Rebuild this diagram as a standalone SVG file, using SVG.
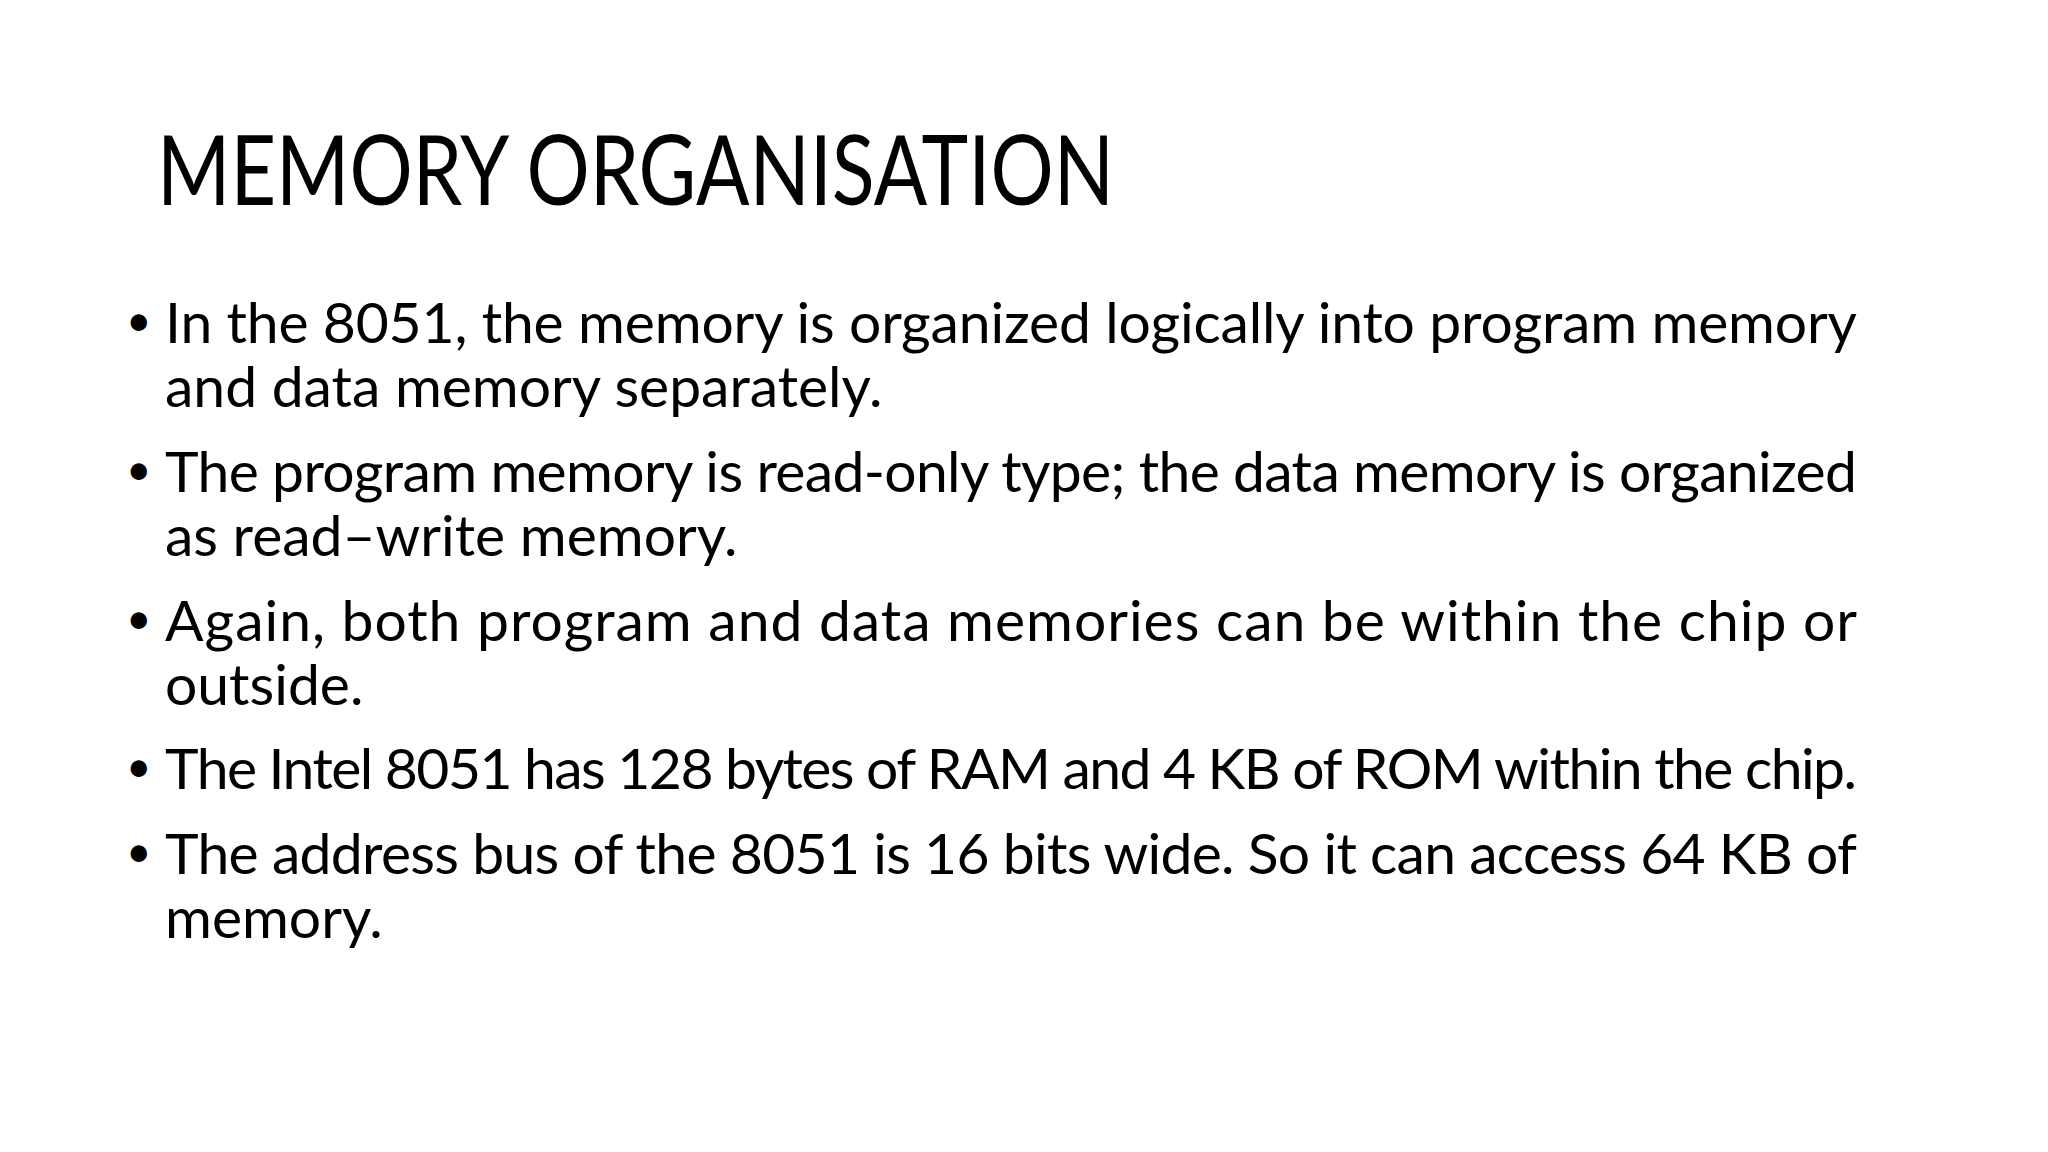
<svg xmlns="http://www.w3.org/2000/svg" width="2048" height="1152" viewBox="0 0 2048 1152">
<style>
.t{font-family:Lato,"Open Sans","Liberation Sans",sans-serif;fill:#000}
.h{font-size:96px}
.b{font-size:57px}
.d{font-size:44px}
</style>
<rect width="2048" height="1152" fill="#fff"/>
<g id="title"><text class="t h" x="157" y="205" textLength="957" lengthAdjust="spacingAndGlyphs">MEMORY ORGANISATION</text></g>
<g id="bullets">
<g id="b1"><text class="t d" x="126" y="336">•</text>
<text class="t b" x="165" y="343" textLength="1692" lengthAdjust="spacing">In the 8051, the memory is organized logically into program memory</text>
<text class="t b" x="165" y="407">and data memory separately.</text></g>
<g id="b2"><text class="t d" x="126" y="485">•</text>
<text class="t b" x="165" y="492" textLength="1692" lengthAdjust="spacing">The program memory is read-only type; the data memory is organized</text>
<text class="t b" x="165" y="556">as read–write memory.</text></g>
<g id="b3"><text class="t d" x="126" y="634">•</text>
<text class="t b" x="165" y="641" textLength="1692" lengthAdjust="spacing">Again, both program and data memories can be within the chip or</text>
<text class="t b" x="165" y="705">outside.</text></g>
<g id="b4"><text class="t d" x="126" y="782">•</text>
<text class="t b" x="165" y="789" textLength="1692" lengthAdjust="spacing">The Intel 8051 has 128 bytes of RAM and 4 KB of ROM within the chip.</text></g>
<g id="b5"><text class="t d" x="126" y="867">•</text>
<text class="t b" x="165" y="874" textLength="1692" lengthAdjust="spacing">The address bus of the 8051 is 16 bits wide. So it can access 64 KB of</text>
<text class="t b" x="165" y="938">memory.</text></g>
</g>
</svg>
